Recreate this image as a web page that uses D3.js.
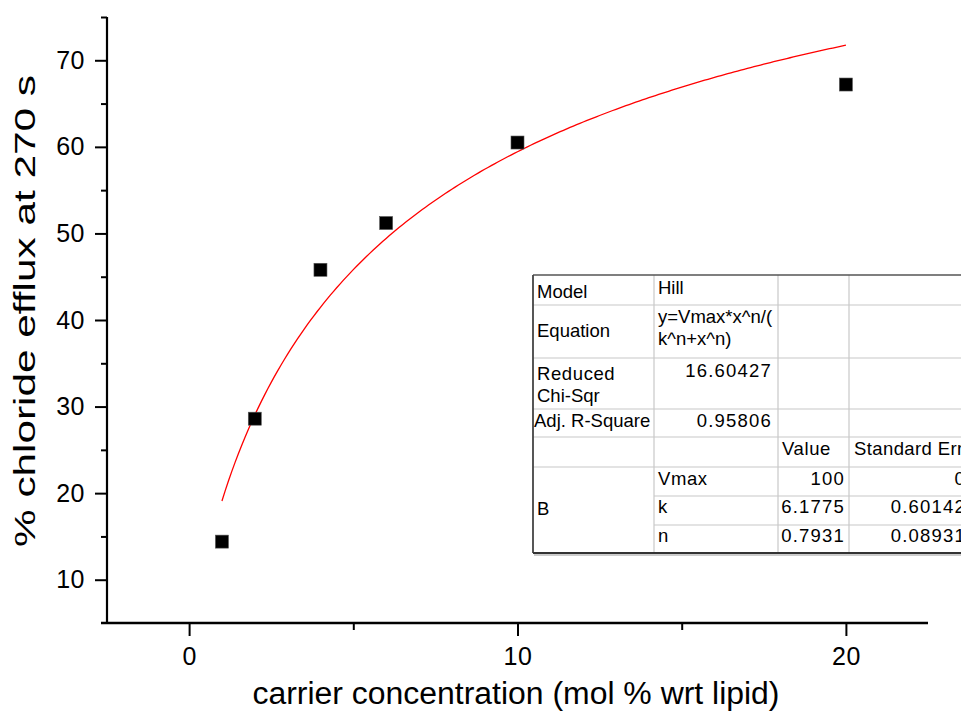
<!DOCTYPE html>
<html>
<head>
<meta charset="utf-8">
<script src="https://cdn.jsdelivr.net/npm/d3@7"></script>
<style>
  html, body { margin: 0; padding: 0; background: #fff; }
  svg { display: block; font-family: "Liberation Sans", Arial, sans-serif; }
</style>
</head>
<body>
<svg id="chart" width="961" height="720"></svg>
<script>
// Measured efflux at 270 s for each carrier loading
const carrierConc = [1, 2, 4, 6, 10, 20];
const effluxPct = [14.4, 28.6, 45.8, 51.2, 60.5, 67.2];

// Axis ticks
const xMajorTicks = [0, 10, 20];
const xMinorTicks = [5, 15];
const yMajorTicks = [10, 20, 30, 40, 50, 60, 70];
const yMinorTicks = [15, 25, 35, 45, 55, 65, 75];

// Hill fit summary
const fitModel = "Hill";
const fitEquation = ["y=Vmax*x^n/(", "k^n+x^n)"];
const reducedChiSqr = "16.60427";
const adjRSquare = "0.95806";
const paramNames = ["Vmax", "k", "n"];
const paramValues = [100, 6.1775, 0.7931];
const paramErrors = ["0", "0.60142", "0.08931"];

const svg = d3.select("#chart");

const x = d3.scaleLinear().domain([-2.5, 22.5]).range([107, 928]);
const y = d3.scaleLinear().domain([5, 75]).range([623, 17]);

// ---- axes ----
const axisColor = "#000";

// x axis: major ticks with labels, minor ticks without
const gx = svg.append("g").attr("transform", `translate(0,${y(5)})`);
gx.call(d3.axisBottom(x).tickValues(xMajorTicks).tickSize(13).tickPadding(11).tickFormat(d3.format("d")));
gx.call(g => g.select(".domain").remove());
const gxm = svg.append("g").attr("transform", `translate(0,${y(5)})`);
gxm.call(d3.axisBottom(x).tickValues(xMinorTicks).tickSize(7).tickFormat(""));
gxm.call(g => g.select(".domain").remove());
svg.append("line")
  .attr("x1", x.range()[0] - 6).attr("x2", x.range()[1])
  .attr("y1", y(5)).attr("y2", y(5))
  .attr("stroke", axisColor).attr("stroke-width", 2.4);

// y axis
const gy = svg.append("g").attr("transform", `translate(${x(-2.5)},0)`);
gy.call(d3.axisLeft(y).tickValues(yMajorTicks).tickSize(12).tickPadding(10).tickFormat(d3.format("d")));
gy.call(g => g.select(".domain").remove());
const gym = svg.append("g").attr("transform", `translate(${x(-2.5)},0)`);
gym.call(d3.axisLeft(y).tickValues(yMinorTicks).tickSize(6).tickFormat(""));
gym.call(g => g.select(".domain").remove());
svg.append("line")
  .attr("x1", x(-2.5)).attr("x2", x(-2.5))
  .attr("y1", y(75)).attr("y2", y(5))
  .attr("stroke", axisColor).attr("stroke-width", 2.2);

svg.selectAll(".tick line").attr("stroke", axisColor).attr("stroke-width", 2);
svg.selectAll(".tick text")
  .attr("font-family", "'Liberation Sans', Arial, sans-serif")
  .attr("font-size", 25)
  .attr("letter-spacing", 0.5)
  .attr("fill", "#000");

// axis titles
svg.append("text")
  .attr("x", 516).attr("y", 704)
  .attr("text-anchor", "middle")
  .attr("font-size", 31)
  .attr("textLength", 527).attr("lengthAdjust", "spacingAndGlyphs")
  .text("carrier concentration (mol % wrt lipid)");

svg.append("text")
  .attr("transform", "translate(35,311) rotate(-90)")
  .attr("text-anchor", "middle")
  .attr("font-size", 30)
  .attr("textLength", 472).attr("lengthAdjust", "spacingAndGlyphs")
  .text("% chloride efflux at 270 s");

// ---- Hill fit curve from the fitted parameters ----
const [Vmax, kHalf, nHill] = paramValues;
const fitX = d3.range(1, 20.0001, 0.1);
const hill = c => Vmax * Math.pow(c, nHill) / (Math.pow(kHalf, nHill) + Math.pow(c, nHill));
svg.append("path")
  .datum(fitX)
  .attr("fill", "none")
  .attr("stroke", "#ff0000")
  .attr("stroke-width", 1.3)
  .attr("d", d3.line().x(d => x(d)).y(d => y(hill(d))));

// ---- data points ----
const sq = 13;
svg.append("g").selectAll("rect")
  .data(carrierConc.map((c, i) => [c, effluxPct[i]]))
  .join("rect")
  .attr("x", d => x(d[0]) - sq / 2)
  .attr("y", d => y(d[1]) - sq / 2)
  .attr("width", sq).attr("height", sq)
  .attr("fill", "#000")
  .attr("stroke", "#555").attr("stroke-width", 0.6);

// ---- fit results table (runs off the right edge of the page) ----
const colX = [533, 654, 778, 849, 1000];
const rowY = [275, 305, 358, 409, 437, 467, 496, 525, 553];
const tbl = svg.append("g").attr("font-size", 18.5).attr("fill", "#000");

tbl.append("rect")
  .attr("x", colX[0]).attr("y", rowY[0])
  .attr("width", colX[4] - colX[0]).attr("height", rowY[8] - rowY[0])
  .attr("fill", "#fff");

const grid = "#c8c8c8";
// full-width row separators
[1, 2, 3, 4, 5].forEach(r => {
  tbl.append("line").attr("x1", colX[0]).attr("x2", colX[4])
    .attr("y1", rowY[r]).attr("y2", rowY[r]).attr("stroke", grid).attr("stroke-width", 1.2);
});
// separators inside the merged "B" block
[6, 7].forEach(r => {
  tbl.append("line").attr("x1", colX[1]).attr("x2", colX[4])
    .attr("y1", rowY[r]).attr("y2", rowY[r]).attr("stroke", grid).attr("stroke-width", 1.2);
});
[1, 2, 3].forEach(c => {
  tbl.append("line").attr("x1", colX[c]).attr("x2", colX[c])
    .attr("y1", rowY[0]).attr("y2", rowY[8]).attr("stroke", grid).attr("stroke-width", 1.2);
});
// outer frame
tbl.append("line").attr("x1", colX[0]).attr("x2", colX[4]).attr("y1", rowY[0]).attr("y2", rowY[0])
  .attr("stroke", "#555").attr("stroke-width", 1.5);
tbl.append("line").attr("x1", colX[0]).attr("x2", colX[0]).attr("y1", rowY[0]).attr("y2", rowY[8])
  .attr("stroke", "#444").attr("stroke-width", 1.8);
tbl.append("line").attr("x1", colX[0]).attr("x2", colX[4]).attr("y1", rowY[8]).attr("y2", rowY[8])
  .attr("stroke", "#333").attr("stroke-width", 1.8);
tbl.append("line").attr("x1", colX[0] + 1).attr("x2", colX[4]).attr("y1", rowY[8] + 2).attr("y2", rowY[8] + 2)
  .attr("stroke", "#bbb").attr("stroke-width", 1.5);

function cell(tx, ty, str, anchor, spacing) {
  tbl.append("text").attr("x", tx).attr("y", ty)
    .attr("text-anchor", anchor || "start")
    .attr("letter-spacing", spacing || 0)
    .text(str);
}

// label column
cell(colX[0] + 4, 298, "Model");
cell(colX[0] + 4, 337, "Equation");
cell(colX[0] + 4, 380, "Reduced", null, 0.6);
cell(colX[0] + 4, 402, "Chi-Sqr");
cell(colX[0] + 1, 427, "Adj. R-Square");
cell(colX[0] + 4, 515, "B");

// value column
cell(colX[1] + 4, 294, fitModel);
cell(colX[1] + 4, 323, fitEquation[0]);
cell(colX[1] + 4, 345, fitEquation[1]);
cell(colX[2] - 6, 377, reducedChiSqr, "end", 1.2);
cell(colX[2] - 6, 427, adjRSquare, "end", 1.2);

// parameter block
cell(colX[2] + 4, 455, "Value", null, 0.6);
cell(colX[3] + 5, 455, "Standard Error", null, 0.4);
const paramRowBase = [485, 513, 542];
paramNames.forEach((nm, i) => {
  cell(colX[1] + 4, paramRowBase[i], nm, null, 0.6);
  cell(colX[3] - 4, paramRowBase[i], String(paramValues[i]), "end", 1.2);
  cell(966, paramRowBase[i], paramErrors[i], "end", 1.2);
});
</script>
</body>
</html>
